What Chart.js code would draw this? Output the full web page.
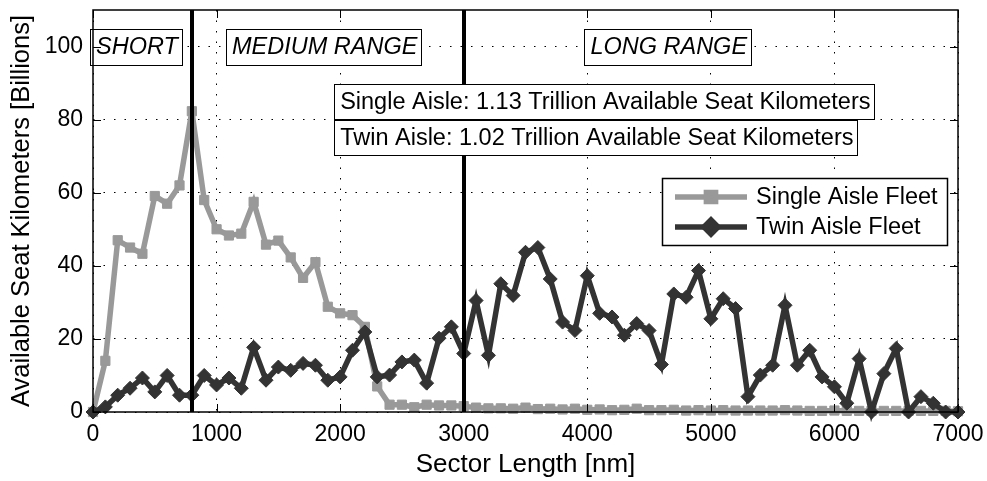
<!DOCTYPE html>
<html><head><meta charset="utf-8">
<script src="https://cdn.jsdelivr.net/npm/chart.js@4"></script>
<style>html,body{margin:0;padding:0;background:#fff;overflow:hidden}</style>
</head><body>
<canvas id="c" width="987" height="481"></canvas>
<script>
// ---- data ----
const sectorLength = [0,100,200,300,400,500,600,700,800,900,1000,1100,1200,1300,1400,1500,1600,1700,1800,1900,2000,2100,2200,2300,2400,2500,2600,2700,2800,2900,3000,3100,3200,3300,3400,3500,3600,3700,3800,3900,4000,4100,4200,4300,4400,4500,4600,4700,4800,4900,5000,5100,5200,5300,5400,5500,5600,5700,5800,5900,6000,6100,6200,6300,6400,6500,6600,6700,6800,6900,7000];
const singleAisle = [0,14,47,45,43.3,59.1,57,62,82.3,58,50,48.3,48.8,57.5,45.8,46.9,42.3,36.7,41,28.8,27,26.5,23.3,7,2,2,1.3,2,1.8,1.8,1.6,1.2,1.0,1.0,0.9,1.2,0.8,0.9,0.7,0.9,0.6,0.7,0.5,0.6,0.9,0.5,0.5,0.6,0.4,0.5,0.4,0.5,0.4,0.4,0.4,0.4,0.5,0.4,0.3,0.3,0.4,0.3,0.3,0.3,0.3,0.3,0.3,0.3,0.3,0.3,0.2];
const twinAisle = [0,1.4,4.6,6.5,9.3,5.5,10,4.6,4.6,10,7.4,9.3,6.5,17.7,8.7,12.3,11.4,13.3,12.8,8.7,9.6,16.9,21.9,9.6,10.1,13.7,14.2,7.9,20.2,23.3,16,30.5,15.5,35.1,31.9,43.7,45,36.4,24.6,22.3,37.3,27,26,21,24.2,22.3,13,32.3,31.4,38.7,25.5,31,28.3,4.2,10.1,12.8,29.2,12.8,16.9,9.6,6.9,2.4,14.6,0,10.5,17.4,0,4.2,2.4,0,0];
const seriesNames = ['Single Aisle Fleet', 'Twin Aisle Fleet'];
const xTickValues = [0,1000,2000,3000,4000,5000,6000,7000];
const yTickValues = [0,20,40,60,80,100];
const regionBoundaries = [800, 3000];
const regionNames = ['SHORT', 'MEDIUM RANGE', 'LONG RANGE'];
const totalsText = ['Single Aisle: 1.13 Trillion Available Seat Kilometers', 'Twin Aisle: 1.02 Trillion Available Seat Kilometers'];
const xTitle = 'Sector Length [nm]';
const yTitle = 'Available Seat Kilometers [Billions]';

// ---- layout / style (not data) ----
const FONT = '"Liberation Sans", Arial, Helvetica, sans-serif';
const regionAnchors = [[25, 100], [1125, 100], [4025, 100]];   // text-left, centre (data coords)
const totalsAnchors = [[2000, 85], [2000, 75]];

const decor = {
  id: 'decor',
  afterDatasetsDraw(chart) {
    const {ctx, chartArea: a, scales: {x, y}} = chart;
    ctx.save();
    // region boundaries
    ctx.strokeStyle = '#000'; ctx.lineWidth = 4;
    regionBoundaries.forEach(v => {
      const px = Math.round(x.getPixelForValue(v));
      ctx.beginPath(); ctx.moveTo(px, a.top); ctx.lineTo(px, a.bottom); ctx.stroke();
    });
    function box(text, ax, ay, italic, half) {
      ctx.font = (italic ? 'italic ' : '') + '23.5px ' + FONT;
      const tx = x.getPixelForValue(ax), ty = y.getPixelForValue(ay);
      const w = ctx.measureText(text).width;
      const l = Math.round(tx - 6) + 0.5, r = Math.round(tx + w + 4) + 0.5;
      const t = Math.round(ty - half) + 0.5, b = Math.round(ty + half) + 0.5;
      ctx.fillStyle = '#fff'; ctx.fillRect(l, t, r - l, b - t);
      ctx.strokeStyle = '#000'; ctx.lineWidth = 1; ctx.strokeRect(l, t, r - l, b - t);
      ctx.fillStyle = '#000'; ctx.textBaseline = 'middle'; ctx.textAlign = 'left';
      ctx.fillText(text, tx, ty + 1);
    }
    regionNames.forEach((n, i) => box(n, regionAnchors[i][0], regionAnchors[i][1], true, 18));
    totalsText.forEach((n, i) => box(n, totalsAnchors[i][0], totalsAnchors[i][1], false, 17.5));

    // legend
    const L = 662.5, T = 178.5, R = 947.5, B = 245.5;
    ctx.fillStyle = '#fff'; ctx.fillRect(L, T, R - L, B - T);
    ctx.strokeStyle = '#000'; ctx.lineWidth = 1.5; ctx.strokeRect(L, T, R - L, B - T);
    ctx.font = '23.5px ' + FONT; ctx.textBaseline = 'middle'; ctx.textAlign = 'left';
    chart.data.datasets.forEach((ds, i) => {
      const yy = 197 + i * 30;
      ctx.strokeStyle = ds.borderColor; ctx.lineWidth = ds.borderWidth;
      ctx.beginPath(); ctx.moveTo(675, yy); ctx.lineTo(747, yy); ctx.stroke();
      ctx.fillStyle = ds.borderColor;
      ctx.strokeStyle = ds.borderColor;
      Chart.helpers.drawPoint(ctx, {pointStyle: ds.pointStyle, radius: ds.pointRadius, borderWidth: 1}, 711, yy);
      ctx.fillStyle = '#000';
      ctx.fillText(ds.label, 756, yy + 1);
    });

    // frame and inward ticks
    ctx.strokeStyle = '#000'; ctx.lineWidth = 1.5;
    ctx.strokeRect(a.left, a.top, a.right - a.left, a.bottom - a.top);
    ctx.lineWidth = 1;
    ctx.beginPath();
    xTickValues.forEach(v => {
      const px = Math.round(x.getPixelForValue(v)) + 0.5;
      ctx.moveTo(px, a.bottom); ctx.lineTo(px, a.bottom - 8);
      ctx.moveTo(px, a.top); ctx.lineTo(px, a.top + 8);
    });
    yTickValues.forEach(v => {
      const py = Math.round(y.getPixelForValue(v)) + 0.5;
      ctx.moveTo(a.left, py); ctx.lineTo(a.left + 8, py);
      ctx.moveTo(a.right, py); ctx.lineTo(a.right - 8, py);
    });
    ctx.stroke();
    ctx.restore();
  }
};

new Chart(document.getElementById('c'), {
  type: 'line',
  data: {
    datasets: [
      {
        label: seriesNames[0],
        data: sectorLength.map((v, i) => ({x: v, y: singleAisle[i]})),
        borderColor: '#999999', backgroundColor: '#999999',
        pointBackgroundColor: '#999999', pointBorderColor: '#999999',
        borderWidth: 5.5, pointStyle: 'rect', pointRadius: 6.5, pointBorderWidth: 1,
        tension: 0, clip: false, order: 1
      },
      {
        label: seriesNames[1],
        data: sectorLength.map((v, i) => ({x: v, y: twinAisle[i]})),
        borderColor: '#333333', backgroundColor: '#333333',
        pointBackgroundColor: '#333333', pointBorderColor: '#333333',
        borderWidth: 5.5, pointStyle: 'rectRot', pointRadius: 7, pointBorderWidth: 1,
        tension: 0, clip: false, order: 0
      }
    ]
  },
  options: {
    responsive: false, animation: false, devicePixelRatio: 1,
    layout: {padding: {top: 10, right: 29, left: 0, bottom: 0}},
    plugins: {legend: {display: false}, tooltip: {enabled: false}},
    scales: {
      x: {
        type: 'linear', min: 0, max: 7000,
        afterBuildTicks: s => { s.ticks = xTickValues.map(v => ({value: v})); },
        afterFit: s => { s.height = 69; s.paddingLeft = 0; s.paddingRight = 0; },
        grid: {color: '#000', lineWidth: 1, drawTicks: false},
        border: {display: false, dash: [1.5, 9]},
        ticks: {color: '#000', font: {family: FONT, size: 23}, padding: 9, maxRotation: 0, autoSkip: false,
                callback: v => String(v)},
        title: {display: true, text: xTitle, color: '#000', font: {family: FONT, size: 26}, padding: {top: 0, bottom: 1}}
      },
      y: {
        type: 'linear', min: 0, max: 110,
        afterBuildTicks: s => { s.ticks = yTickValues.map(v => ({value: v})); },
        afterFit: s => { s.width = 93; s.paddingTop = 0; s.paddingBottom = 0; },
        grid: {color: '#000', lineWidth: 1, drawTicks: false},
        border: {display: false, dash: [1.5, 9]},
        ticks: {color: '#000', font: {family: FONT, size: 23}, padding: 10, callback: v => String(v)},
        title: {display: true, text: yTitle, color: '#000', font: {family: FONT, size: 25.5}, padding: {top: 7, bottom: 0}}
      }
    }
  },
  plugins: [decor]
});
</script>
</body></html>
